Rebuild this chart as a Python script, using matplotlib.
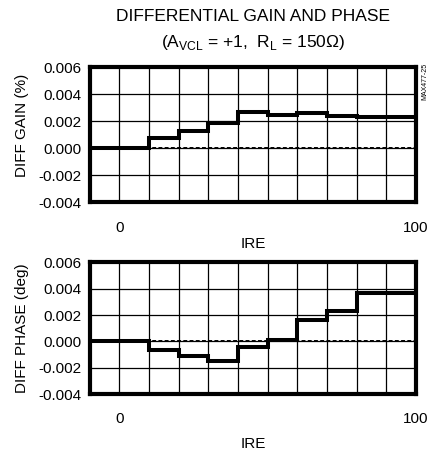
import matplotlib
matplotlib.use('Agg')
import matplotlib.pyplot as plt

plt.rcParams['font.family'] = ['Liberation Sans', 'DejaVu Sans']
plt.rcParams['mathtext.fontset'] = 'custom'
plt.rcParams['mathtext.rm'] = 'Liberation Sans'

# step edges (IRE) and step values
ire_edges = [-10, 10, 20, 30, 40, 50, 60, 70, 80, 100]
gain = [0.0, 0.00078, 0.00126, 0.00189, 0.0027, 0.00247, 0.0026, 0.0024, 0.00234]
phase = [0.0, -0.00063, -0.00114, -0.0015, -0.0004, 0.00013, 0.00165, 0.0023, 0.0037]

yticks = [-0.004, -0.002, 0.0, 0.002, 0.004, 0.006]
ytick_labels = ['-0.004', '-0.002', '0.000', '0.002', '0.004', '0.006']

fig = plt.figure(figsize=(4.36, 4.53), dpi=100)

def draw(ax, values, ylabel, xpad, ylab_y):
    xs = []
    ys = []
    for i, v in enumerate(values):
        xs += [ire_edges[i], ire_edges[i + 1]]
        ys += [v, v]
    ax.axhline(0, color='black', lw=1.4, ls=(0, (2, 1.2)), zorder=2)
    ax.plot(xs, ys, color='black', lw=2.9, solid_joinstyle='miter', zorder=3)
    ax.set_xlim(-10, 100)
    ax.set_ylim(-0.004, 0.006)
    ax.set_xticks(range(-10, 101, 10))
    ax.set_xticklabels(['', '0', '', '', '', '', '', '', '', '', '', '100'])
    ax.set_yticks(yticks)
    ax.set_yticklabels(ytick_labels)
    ax.grid(True, color='black', lw=0.9)
    ax.tick_params(length=0, labelsize=11, pad=6)
    ax.tick_params(axis='x', pad=13)
    for s in ax.spines.values():
        s.set_linewidth(3)
    ax.set_xlabel('IRE', fontsize=11, labelpad=xpad)
    ax.set_ylabel(ylabel, fontsize=11)
    ax.yaxis.set_label_coords(-0.185, ylab_y)

ax1 = fig.add_axes([0.206, 0.553, 0.748, 0.299])
draw(ax1, gain, 'DIFF GAIN (%)', 2, 0.566)
ax2 = fig.add_axes([0.206, 0.130, 0.748, 0.291])
draw(ax2, phase, 'DIFF PHASE (deg)', 8, 0.5)

fig.text(0.58, 0.963, 'DIFFERENTIAL GAIN AND PHASE', ha='center', va='center', fontsize=12.5)
fig.text(0.58, 0.907, r'(A$_{\rm VCL}$ = +1,  R$_{\rm L}$ = 150$\Omega$)', ha='center', va='center', fontsize=12.5)
fig.text(0.975, 0.82, 'MAX477-25', rotation=90, ha='center', va='center', fontsize=5)

fig.savefig('out.png', dpi=100)
